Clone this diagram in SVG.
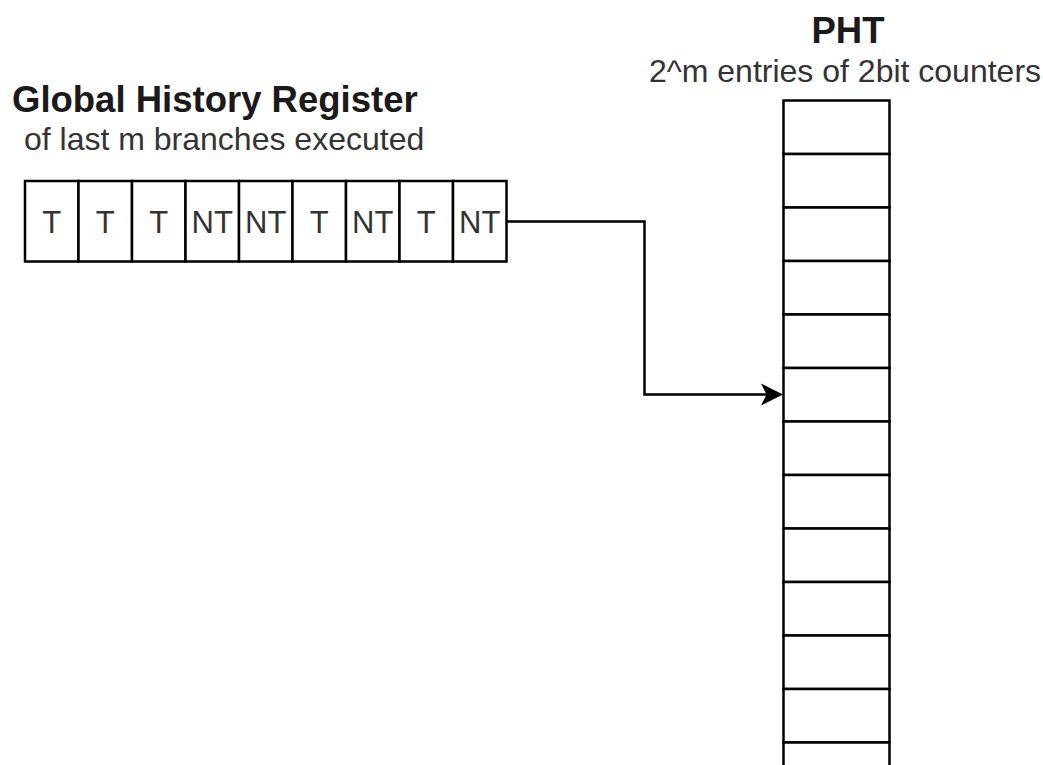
<svg xmlns="http://www.w3.org/2000/svg" width="1043" height="765" viewBox="0 0 1043 765">
<style>
.cell{fill:#fff;stroke:#000;stroke-width:2.5}
.ct{font-family:"Liberation Sans",Arial,sans-serif;font-size:31px;fill:#333;text-anchor:middle}
.title{font-family:"Liberation Sans",Arial,sans-serif;font-size:36.5px;font-weight:bold;fill:#1a1a1a}
.sub{font-family:"Liberation Sans",Arial,sans-serif;font-size:32px;fill:#333}
.conn{fill:none;stroke:#000;stroke-width:2.5}
</style>
<rect width="1043" height="765" fill="#fff"/>
<g id="ghr-label">
<text class="title" x="12" y="112">Global History Register</text>
<text class="sub" x="24" y="150">of last m branches executed</text>
</g>
<g id="pht-label">
<text class="title" x="848" y="43" text-anchor="middle">PHT</text>
<text class="sub" x="845" y="82" text-anchor="middle">2^m entries of 2bit counters</text>
</g>
<g id="ghr">
<rect class="cell" x="25" y="181" width="53.5" height="80.5"/>
<rect class="cell" x="78.5" y="181" width="53.5" height="80.5"/>
<rect class="cell" x="132" y="181" width="53.5" height="80.5"/>
<rect class="cell" x="185.5" y="181" width="53.5" height="80.5"/>
<rect class="cell" x="239" y="181" width="53.5" height="80.5"/>
<rect class="cell" x="292.5" y="181" width="53.5" height="80.5"/>
<rect class="cell" x="346" y="181" width="53.5" height="80.5"/>
<rect class="cell" x="399.5" y="181" width="53.5" height="80.5"/>
<rect class="cell" x="453" y="181" width="53.5" height="80.5"/>
<text class="ct" x="51.75" y="233">T</text>
<text class="ct" x="105.25" y="233">T</text>
<text class="ct" x="158.75" y="233">T</text>
<text class="ct" x="212.25" y="233">NT</text>
<text class="ct" x="265.75" y="233">NT</text>
<text class="ct" x="319.25" y="233">T</text>
<text class="ct" x="372.75" y="233">NT</text>
<text class="ct" x="426.25" y="233">T</text>
<text class="ct" x="479.75" y="233">NT</text>
</g>
<g id="pht">
<rect class="cell" x="783.5" y="100.5" width="106" height="53.5"/>
<rect class="cell" x="783.5" y="154" width="106" height="53.5"/>
<rect class="cell" x="783.5" y="207.5" width="106" height="53.5"/>
<rect class="cell" x="783.5" y="261" width="106" height="53.5"/>
<rect class="cell" x="783.5" y="314.5" width="106" height="53.5"/>
<rect class="cell" x="783.5" y="368" width="106" height="53.5"/>
<rect class="cell" x="783.5" y="421.5" width="106" height="53.5"/>
<rect class="cell" x="783.5" y="475" width="106" height="53.5"/>
<rect class="cell" x="783.5" y="528.5" width="106" height="53.5"/>
<rect class="cell" x="783.5" y="582" width="106" height="53.5"/>
<rect class="cell" x="783.5" y="635.5" width="106" height="53.5"/>
<rect class="cell" x="783.5" y="689" width="106" height="53.5"/>
<rect class="cell" x="783.5" y="742.5" width="106" height="53.5"/>
</g>
<g id="connectors">
<path class="conn" d="M506.5,221.5 H644.5 V394.5 H770"/>
<path d="M783,394.5 L761,383.5 L766.5,394.5 L761,405.5 Z" fill="#000"/>
</g>
</svg>
